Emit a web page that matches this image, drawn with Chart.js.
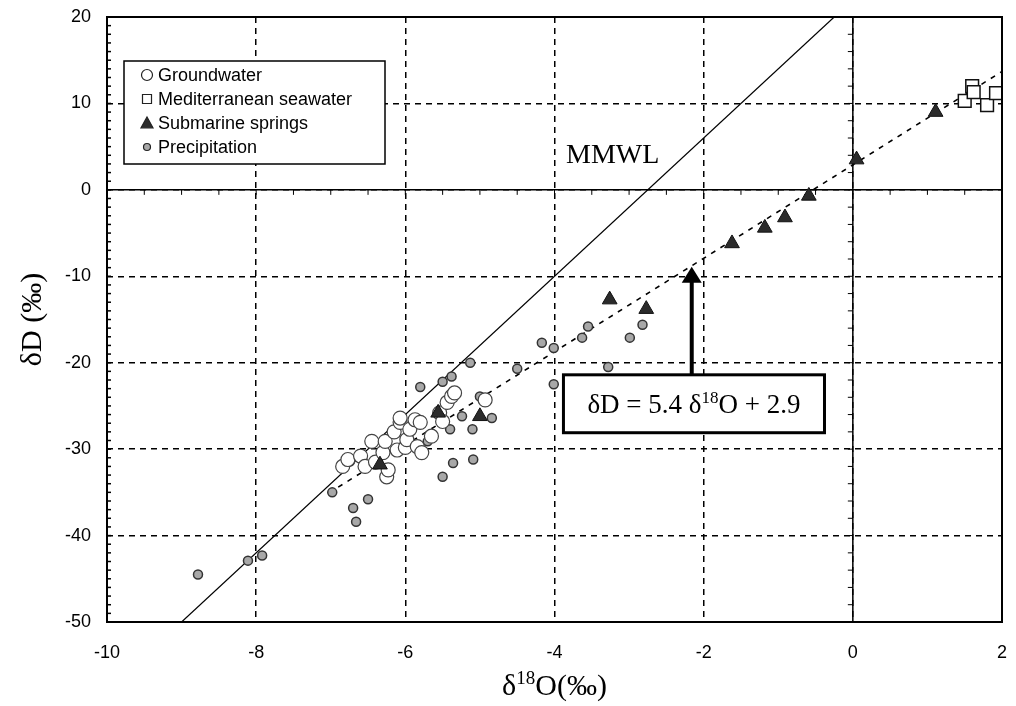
<!DOCTYPE html>
<html>
<head>
<meta charset="utf-8">
<script src="https://cdn.jsdelivr.net/npm/chart.js@4"></script>
<style>
  html, body { margin: 0; padding: 0; background: #fff; }
  #wrap { width: 1016px; height: 706px; }
</style>
</head>
<body>
<div id="wrap"><canvas id="isoChart"></canvas></div>
<script>
// Groundwater samples (d18O, dD)
const groundwaterX = [-6.84, -6.77, -6.60, -6.54, -6.45, -6.40, -6.30, -6.27, -6.25, -6.23, -6.15, -6.11, -6.07, -6.07,
                      -6.00, -5.98, -5.94, -5.87, -5.84, -5.80, -5.78, -5.65, -5.54, -5.50, -5.44, -5.38, -5.34, -4.93];
const groundwaterY = [-32.0, -31.2, -30.8, -32.0, -29.1, -31.5, -30.4, -29.1, -33.2, -32.4, -28.0, -30.1, -26.9, -26.4,
                      -29.8, -28.9, -27.7, -26.6, -29.7, -26.9, -30.4, -28.5, -25.8, -26.8, -24.6, -23.9, -23.5, -24.3];

// Mediterranean seawater
const seawaterX = [1.50, 1.60, 1.62, 1.80, 1.92];
const seawaterY = [10.3, 12.0, 11.3, 9.8, 11.2];

// Submarine springs
const springsX = [-6.34, -5.56, -5.00, -3.26, -2.77, -1.62, -1.18, -0.91, -0.59, 0.05, 1.11];
const springsY = [-31.8, -25.8, -26.2, -12.7, -13.8, -6.2, -4.4, -3.2, -0.7, 3.5, 9.0];

// Precipitation
const precipX = [-8.78, -8.11, -7.92, -6.98, -6.74, -6.70, -6.66, -6.54, -6.50, -5.80, -5.70, -5.50, -5.50, -5.40, -5.38,
                 -5.36, -5.24, -5.13, -5.10, -5.09, -5.00, -4.84, -4.50, -4.17, -4.01, -4.01, -3.63, -3.55, -3.28, -2.99, -2.82];
const precipY = [-44.5, -42.9, -42.3, -35.0, -31.4, -36.8, -38.4, -32.0, -35.8, -22.8, -29.1, -33.2, -22.2, -27.7, -21.6,
                 -31.6, -26.2, -20.0, -27.7, -31.2, -23.9, -26.4, -20.7, -17.7, -18.3, -22.5, -17.1, -15.8, -20.5, -17.1, -15.6];

// Meteoric water line (MMWL) and regression line end points
const mmwlX = [-9, -0.25];
const mmwlY = [-50, 20];
const fitX = [-6.9, 2];
const fitY = [-34.4, 13.7];

const xTicks = [-10, -8, -6, -4, -2, 0, 2];
const yTicks = [20, 10, 0, -10, -20, -30, -40, -50];

const toPts = (xs, ys) => xs.map((v, i) => ({ x: v, y: ys[i] }));

// annotation anchors in data units
const mmwlLabelAt = { x: -3.22, y: 4.0 };
const eqBox = { x1: -3.88, x2: -0.38, y1: -21.4, y2: -28.1 };
const arrowTip = { x: -2.16, y: -8.9 };

const SANS = '"Liberation Sans", Arial, sans-serif';
const SERIF = '"Liberation Serif", "Times New Roman", serif';

function seg(ctx, x1, y1, x2, y2) {
    ctx.beginPath();
    ctx.moveTo(x1, y1);
    ctx.lineTo(x2, y2);
    ctx.stroke();
}

// draws "pre" + superscript + "post", centred at cx
function supText(ctx, pre, sup, post, cx, cy, size) {
    const big = size + 'px ' + SERIF;
    const small = Math.round(size * 0.62) + 'px ' + SERIF;
    ctx.font = big; const w1 = ctx.measureText(pre).width; const w3 = ctx.measureText(post).width;
    ctx.font = small; const w2 = ctx.measureText(sup).width;
    let x = cx - (w1 + w2 + w3) / 2;
    ctx.textAlign = 'left';
    ctx.textBaseline = 'alphabetic';
    ctx.font = big; ctx.fillText(pre, x, cy); x += w1;
    ctx.font = small; ctx.fillText(sup, x, cy - size * 0.38); x += w2;
    ctx.font = big; ctx.fillText(post, x, cy);
}

const extras = {
    id: 'extras',
    beforeDatasetsDraw(chart) {
        const { ctx, chartArea: a, scales: { x, y } } = chart;
        const x0 = x.getPixelForValue(0), y0 = y.getPixelForValue(0);
        ctx.save();
        ctx.strokeStyle = '#000';
        ctx.lineWidth = 1.5;
        seg(ctx, x0, a.top, x0, a.bottom);
        seg(ctx, a.left, y0, a.right, y0);
        ctx.lineWidth = 1;
        // small ticks along the zero lines
        for (let v = -10; v <= 2; v += 0.5) {
            const px = x.getPixelForValue(v);
            seg(ctx, px, y0, px, y0 + 5);
        }
        for (let v = -50; v <= 20; v += 2) {
            const py = y.getPixelForValue(v);
            seg(ctx, x0 - 5, py, x0, py);
        }
        // dense minor ticks on the left border
        ctx.lineWidth = 1.5;
        for (let v = -50; v <= 20; v += 1) {
            const py = y.getPixelForValue(v);
            seg(ctx, a.left, py, a.left + 4, py);
        }
        ctx.restore();
    },
    afterDatasetsDraw(chart) {
        const { ctx, chartArea: a, scales: { x, y } } = chart;
        ctx.save();
        // frame
        ctx.strokeStyle = '#000';
        ctx.lineWidth = 2;
        ctx.strokeRect(a.left, a.top, a.right - a.left, a.bottom - a.top);

        // MMWL label
        ctx.fillStyle = '#000';
        ctx.font = '28px ' + SERIF;
        ctx.textAlign = 'center';
        ctx.textBaseline = 'middle';
        ctx.fillText('MMWL', x.getPixelForValue(mmwlLabelAt.x), y.getPixelForValue(mmwlLabelAt.y));

        // arrow to regression line
        const ax = x.getPixelForValue(arrowTip.x), ay = y.getPixelForValue(arrowTip.y);
        const by = y.getPixelForValue(eqBox.y1);
        ctx.lineWidth = 4;
        seg(ctx, ax, by, ax, ay + 14);
        ctx.beginPath();
        ctx.moveTo(ax, ay);
        ctx.lineTo(ax - 10, ay + 16);
        ctx.lineTo(ax + 10, ay + 16);
        ctx.closePath();
        ctx.fill();

        // equation box
        const bx1 = x.getPixelForValue(eqBox.x1), bx2 = x.getPixelForValue(eqBox.x2);
        const by2 = y.getPixelForValue(eqBox.y2);
        ctx.fillStyle = '#fff';
        ctx.fillRect(bx1, by, bx2 - bx1, by2 - by);
        ctx.lineWidth = 3;
        ctx.strokeRect(bx1, by, bx2 - bx1, by2 - by);
        ctx.fillStyle = '#000';
        supText(ctx, '\u03B4D = 5.4 \u03B4', '18', 'O + 2.9', (bx1 + bx2) / 2, (by + by2) / 2 + 9, 27);
        ctx.restore();
    },
    afterDraw(chart) {
        const { ctx, chartArea: a } = chart;
        ctx.save();
        ctx.fillStyle = '#000';
        // axis titles
        supText(ctx, '\u03B4', '18', 'O(\u2030)', (a.left + a.right) / 2, 695, 30);
        ctx.translate(33, (a.top + a.bottom) / 2);
        ctx.rotate(-Math.PI / 2);
        ctx.font = '30px ' + SERIF;
        ctx.textAlign = 'center';
        ctx.textBaseline = 'middle';
        ctx.fillText('\u03B4D (\u2030)', 0, 0);
        ctx.restore();

        // legend box
        ctx.save();
        const lx = 124, ly = 61, lw = 261, lh = 103;
        ctx.fillStyle = '#fff';
        ctx.fillRect(lx, ly, lw, lh);
        ctx.strokeStyle = '#000';
        ctx.lineWidth = 1.5;
        ctx.strokeRect(lx, ly, lw, lh);
        ctx.font = '18px ' + SANS;
        ctx.textAlign = 'left';
        ctx.textBaseline = 'middle';
        const items = chart.data.datasets.filter(d => d.showInLegend)
            .sort((p, q) => p.legendOrder - q.legendOrder);
        items.forEach((d, i) => {
            const cy = ly + 14 + i * 24;
            const mx = lx + 23;
            ctx.lineWidth = 1.2;
            ctx.strokeStyle = '#222';
            ctx.fillStyle = d.legendFill;
            ctx.beginPath();
            if (d.pointStyle === 'circle') {
                ctx.arc(mx, cy, d.legendSize, 0, Math.PI * 2);
            } else if (d.pointStyle === 'rect') {
                ctx.rect(mx - d.legendSize, cy - d.legendSize, d.legendSize * 2, d.legendSize * 2);
            } else {
                ctx.moveTo(mx, cy - d.legendSize);
                ctx.lineTo(mx + d.legendSize, cy + d.legendSize * 0.8);
                ctx.lineTo(mx - d.legendSize, cy + d.legendSize * 0.8);
                ctx.closePath();
            }
            ctx.fill();
            ctx.stroke();
            ctx.fillStyle = '#000';
            ctx.fillText(d.label, lx + 34, cy + 1);
        });
        ctx.restore();
    }
};

new Chart(document.getElementById('isoChart'), {
    type: 'scatter',
    data: {
        datasets: [
            {
                label: 'Submarine springs',
                data: toPts(springsX, springsY),
                pointStyle: 'triangle',
                pointRadius: 8.5,
                backgroundColor: '#2b2b2b',
                borderColor: '#111',
                borderWidth: 1,
                order: 0,
                showInLegend: true, legendFill: '#2b2b2b', legendSize: 6, legendOrder: 2
            },
            {
                label: 'Mediterranean seawater',
                data: toPts(seawaterX, seawaterY),
                pointStyle: 'rect',
                pointRadius: 9,
                backgroundColor: '#fff',
                borderColor: '#111',
                borderWidth: 1.5,
                order: 1,
                showInLegend: true, legendFill: '#fff', legendSize: 4.5, legendOrder: 1
            },
            {
                label: 'Groundwater',
                data: toPts(groundwaterX, groundwaterY),
                pointStyle: 'circle',
                pointRadius: 7,
                backgroundColor: '#fff',
                borderColor: '#444',
                borderWidth: 1.2,
                order: 2,
                showInLegend: true, legendFill: '#fff', legendSize: 5.5, legendOrder: 0
            },
            {
                label: 'Precipitation',
                data: toPts(precipX, precipY),
                pointStyle: 'circle',
                pointRadius: 4.5,
                backgroundColor: '#a8a8a8',
                borderColor: '#333',
                borderWidth: 1.5,
                order: 3,
                showInLegend: true, legendFill: '#a8a8a8', legendSize: 3.5, legendOrder: 3
            },
            {
                label: 'MMWL',
                type: 'line',
                data: toPts(mmwlX, mmwlY),
                borderColor: '#000',
                borderWidth: 1.2,
                pointRadius: 0,
                order: 5
            },
            {
                label: 'Regression',
                type: 'line',
                data: toPts(fitX, fitY),
                borderColor: '#000',
                borderWidth: 1.6,
                borderDash: [5, 6],
                pointRadius: 0,
                order: 4
            }
        ]
    },
    options: {
        responsive: true,
        maintainAspectRatio: false,
        animation: false,
        layout: { padding: { top: 17, right: 14, left: 0, bottom: 0 } },
        plugins: {
            legend: { display: false },
            tooltip: { enabled: false }
        },
        scales: {
            x: {
                type: 'linear',
                min: -10,
                max: 2,
                afterBuildTicks: s => { s.ticks = xTicks.map(v => ({ value: v })); },
                afterFit: s => { s.height = 84; s.paddingLeft = 0; s.paddingRight = 0; },
                grid: { color: '#000', lineWidth: 1.5, drawTicks: false },
                border: { display: false, dash: [6, 5] },
                ticks: { color: '#000', font: { family: SANS, size: 18 }, padding: 20 }
            },
            y: {
                type: 'linear',
                min: -50,
                max: 20,
                afterBuildTicks: s => { s.ticks = yTicks.map(v => ({ value: v })); },
                afterFit: s => { s.width = 107; s.paddingTop = 0; s.paddingBottom = 0; },
                grid: { color: '#000', lineWidth: 1.5, drawTicks: false },
                border: { display: false, dash: [6, 5] },
                ticks: { color: '#000', font: { family: SANS, size: 18 }, padding: 16 }
            }
        }
    },
    plugins: [extras]
});
</script>
</body>
</html>
